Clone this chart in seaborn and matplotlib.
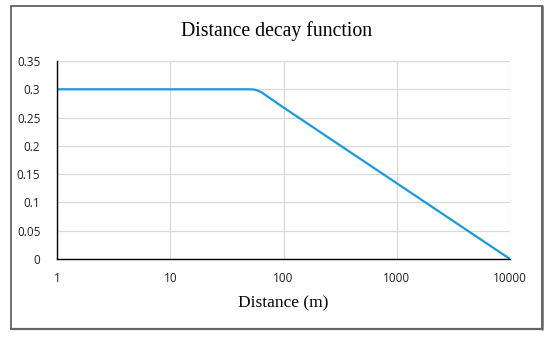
import matplotlib
matplotlib.use("Agg")
import matplotlib.pyplot as plt
import seaborn as sns
import pandas as pd
from matplotlib.patches import Rectangle
from matplotlib.lines import Line2D

# Data
distance = [1, 10, 40, 50, 54, 57, 60, 64, 100, 1000, 10000]
weight = [0.3, 0.3, 0.3, 0.3, 0.2997, 0.2988, 0.2972, 0.2946, 0.2678, 0.1339, 0.0]
x_ticks = [1, 10, 100, 1000, 10000]
x_tick_labels = ["1", "10", "100", "1000", "10000"]
y_ticks = [0, 0.05, 0.1, 0.15, 0.2, 0.25, 0.3, 0.35]
y_tick_labels = ["0", "0.05", "0.1", "0.15", "0.2", "0.25", "0.3", "0.35"]

df = pd.DataFrame({"Distance": distance, "Weight": weight})

sns.set_theme(style="white")
plt.rcParams["font.family"] = ["Open Sans", "DejaVu Sans"]

fig = plt.figure(figsize=(5.5, 3.37), dpi=100)
ax = fig.add_axes([57 / 550, 1 - 259 / 337, (510 - 57) / 550, (259 - 61) / 337])

sns.lineplot(data=df, x="Distance", y="Weight", ax=ax, color="#1b9ad9", linewidth=1.6)

ax.set_xscale("log")
ax.set_xlim(1, 10000)
ax.set_ylim(0, 0.35)
ax.set_xticks(x_ticks)
ax.set_xticklabels(x_tick_labels)
ax.set_yticks(y_ticks)
ax.set_yticklabels(y_tick_labels)
ax.minorticks_off()
ax.tick_params(axis="both", length=0, labelsize=8.5, colors="#222222")
ax.tick_params(axis="y", pad=12)
ax.tick_params(axis="x", pad=9)
ax.grid(True, color="#d9d9d9", linewidth=0.9)
ax.set_axisbelow(True)
for s in ["top", "right"]:
    ax.spines[s].set_visible(False)
for s in ["left", "bottom"]:
    ax.spines[s].set_color("black")
    ax.spines[s].set_linewidth(1.0)

ax.set_ylabel("")
ax.set_xlabel("Distance (m)", fontsize=12.5, family="Liberation Serif", color="black", labelpad=8)
fig.text(0.503, 1 - 31 / 337, "Distance decay function", fontsize=14.2,
         family="Liberation Serif", ha="center", va="center", color="black")

# Outer frame with a slightly heavier right/bottom edge (shadow look)
x0, x1 = 11 / 550, 542 / 550
y0, y1 = 1 - 329 / 337, 1 - 6 / 337
rect = Rectangle((x0, y0), x1 - x0, y1 - y0,
                 transform=fig.transFigure, fill=False, edgecolor="#555555", linewidth=1.2)
fig.patches.append(rect)
fig.lines.append(Line2D([x1, x1], [y0, y1], transform=fig.transFigure,
                        color="#666666", linewidth=1.8))
fig.lines.append(Line2D([x0, x1], [y0, y0], transform=fig.transFigure,
                        color="#666666", linewidth=1.6))

fig.savefig("out.png", dpi=100)
